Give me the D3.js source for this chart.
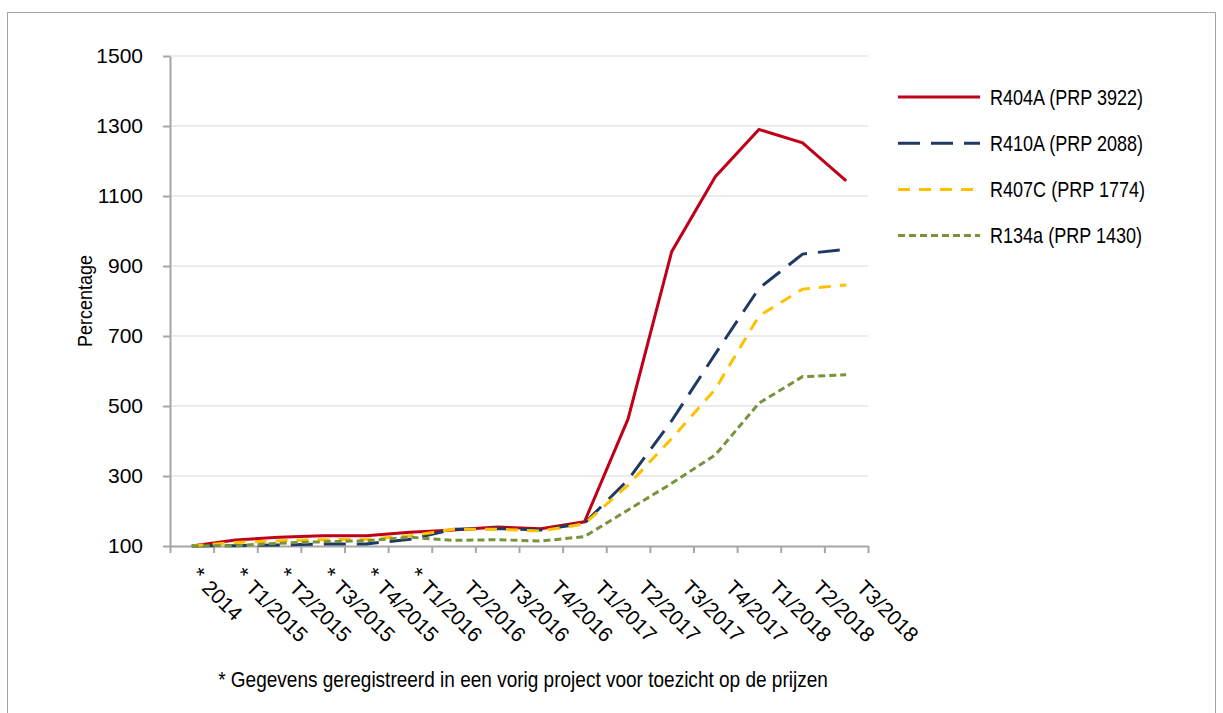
<!DOCTYPE html>
<html>
<head>
<meta charset="utf-8">
<script src="https://cdn.jsdelivr.net/npm/d3@7"></script>
<style>
  body { margin: 0; background: #fff; }
  svg { display: block; font-family: "Liberation Sans", Arial, sans-serif; }
  .grid line { stroke: #d9d9d9; stroke-width: 1; }
  .axis path, .axis line { stroke: #a6a6a6; stroke-width: 2; }
  .axis text { fill: #000; }
  .series { fill: none; stroke-width: 3; }
</style>
</head>
<body>
<svg width="1223" height="713"></svg>
<script>

var categories = ["* 2014", "* T1/2015", "* T2/2015", "* T3/2015", "* T4/2015", "* T1/2016",
  "T2/2016", "T3/2016", "T4/2016", "T1/2017", "T2/2017", "T3/2017", "T4/2017",
  "T1/2018", "T2/2018", "T3/2018"];

var seriesNames = ["R404A (PRP 3922)", "R410A (PRP 2088)", "R407C (PRP 1774)", "R134a (PRP 1430)"];

var r404a = [100, 117, 125, 129, 129, 139, 146, 154, 149, 169, 463, 941, 1155, 1290, 1252, 1143];
var r410a = [100, 101, 103, 106, 106, 119, 148, 150, 146, 165, 289, 458, 649, 836, 934, 948];
var r407c = [100, 110, 115, 118, 119, 129, 148, 148, 143, 163, 274, 407, 548, 757, 834, 846];
var r134a = [100, 101, 108, 112, 115, 125, 116, 118, 114, 127, 203, 279, 360, 508, 584, 589];

var yTicks = [100, 300, 500, 700, 900, 1100, 1300, 1500];
var yLabel = "Percentage";
var footnote = "* Gegevens geregistreerd in een vorig project voor toezicht op de prijzen";

var colors = ["#c00018", "#1f3864", "#ffc000", "#77933c"];
var dashes = [null, "22,11", "12,9", "7,4"];

var series = [r404a, r410a, r407c, r134a].map(function(v, i) {
  return {name: seriesNames[i], values: v, color: colors[i], dash: dashes[i]};
});

var svg = d3.select("svg"),
    margin = {top: 56, left: 170, right: 355, bottom: 167},
    width = +svg.attr("width") - margin.left - margin.right,
    height = +svg.attr("height") - margin.top - margin.bottom;

// outer frame
svg.append("rect")
    .attr("x", 7.5).attr("y", 12.5)
    .attr("width", 1208).attr("height", 720)
    .attr("fill", "none")
    .attr("stroke", "#a6a6a6")
    .attr("stroke-width", 1);

var g = svg.append("g")
    .attr("transform", "translate(" + margin.left + "," + margin.top + ")");

var x = d3.scaleBand().domain(categories).range([0, width]);
var xEdge = d3.scaleLinear().domain([0, categories.length]).range([0, width]);
var y = d3.scaleLinear().domain([100, 1500]).range([height, 0]);

g.append("g")
    .attr("class", "grid")
  .selectAll("line")
  .data(yTicks.slice(1))
  .enter().append("line")
    .attr("x1", 0).attr("x2", width)
    .attr("y1", function(d) { return y(d); })
    .attr("y2", function(d) { return y(d); });

var yAxis = g.append("g")
    .attr("class", "axis axis--y")
    .call(d3.axisLeft(y).tickValues(yTicks).tickFormat(d3.format("d"))
      .tickSize(7).tickPadding(20).tickSizeOuter(0));
yAxis.selectAll("text").style("font-size", "21px");

var xAxis = g.append("g")
    .attr("class", "axis axis--x")
    .attr("transform", "translate(0," + height + ")")
    .call(d3.axisBottom(xEdge).ticks(categories.length).tickSize(7).tickFormat("").tickSizeOuter(0));

// rotated category labels, asterisk hangs in front of the label
var lab = g.append("g").attr("class", "xlabels")
  .selectAll("g")
  .data(categories)
  .enter().append("g")
    .attr("transform", function(d) {
      return "translate(" + (x(d) + x.bandwidth() / 2 + 9) + "," + (height + 43) + ") rotate(45)";
    });

lab.append("text")
    .style("font-size", "21px")
    .text(function(d) { return d.replace(/^\* /, ""); });

lab.filter(function(d) { return d.indexOf("* ") === 0; })
  .append("text")
    .attr("x", -8)
    .attr("y", -1)
    .attr("text-anchor", "end")
    .style("font-size", "22px")
    .text("*");

var line = d3.line()
    .x(function(d, i) { return x(categories[i]) + x.bandwidth() / 2; })
    .y(function(d) { return y(d); });

g.selectAll(".series")
  .data(series)
  .enter().append("path")
    .attr("class", "series")
    .attr("d", function(d) { return line(d.values); })
    .attr("stroke", function(d) { return d.color; })
    .attr("stroke-dasharray", function(d) { return d.dash; });

// y label
svg.append("text")
    .attr("transform", "translate(92," + (margin.top + height / 2) + ") rotate(-90) scale(0.9,1)")
    .attr("text-anchor", "middle")
    .style("font-size", "20px")
    .text(yLabel);

// legend
var legend = svg.append("g")
    .attr("transform", "translate(898,97)");

var item = legend.selectAll("g")
  .data(series)
  .enter().append("g")
    .attr("transform", function(d, i) { return "translate(0," + (i * 46.2) + ")"; });

item.append("line")
    .attr("x1", 0).attr("x2", 82)
    .attr("stroke", function(d) { return d.color; })
    .attr("stroke-width", 3)
    .attr("stroke-dasharray", function(d) { return d.dash; });

// condensed look: squeeze the text horizontally
item.append("text")
    .attr("transform", "translate(92,0) scale(0.82,1)")
    .attr("dy", "0.35em")
    .style("font-size", "22px")
    .text(function(d) { return d.name; });

// footnote
svg.append("text")
    .attr("transform", "translate(523,687) scale(0.865,1)")
    .attr("text-anchor", "middle")
    .style("font-size", "22px")
    .text(footnote);

</script>
</body>
</html>
